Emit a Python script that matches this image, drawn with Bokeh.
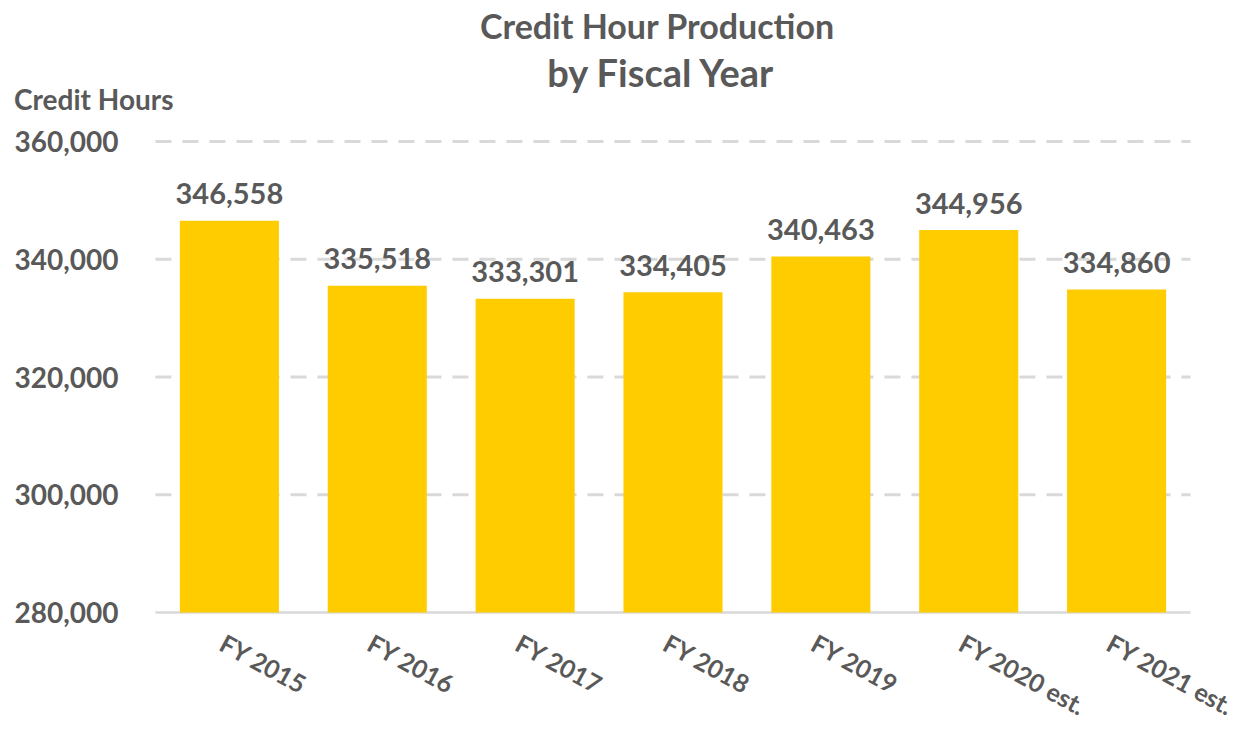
from bokeh.plotting import figure
from bokeh.models import ColumnDataSource, Label, Range1d
from bokeh.core.properties import value
from bokeh.embed import file_html
from bokeh.resources import INLINE

categories = ["FY 2015", "FY 2016", "FY 2017", "FY 2018", "FY 2019", "FY 2020 est.", "FY 2021 est."]
credit_hours = [346558, 335518, 333301, 334405, 340463, 344956, 334860]
y_ticks = [280000, 300000, 320000, 340000, 360000]

FONT = "Lato"
GREY = "#595959"
GRID = "#D9D9D9"

n = len(categories)
xs = list(range(n))
labels = [f"{v:,}" for v in credit_hours]
tick_labels = [f"{t:,}" for t in y_ticks]
src = ColumnDataSource(dict(x=xs, cat=categories, val=credit_hours, lab=labels,
                            base=[y_ticks[0]] * n))

# The frame fills the whole figure so that every text (rotated category labels,
# axis title, chart title) can be drawn through the data scales without clipping.
p = figure(x_range=Range1d(-1.548, 6.865), y_range=Range1d(260807, 383949),
           width=1244, height=725, output_backend="svg", toolbar_location=None,
           min_border_left=0, min_border_right=0, min_border_top=0, min_border_bottom=0)
p.outline_line_color = None
p.background_fill_color = "white"
p.xaxis.visible = False
p.yaxis.visible = False
p.xgrid.visible = False
p.ygrid.visible = False

# y tick labels from the tick values
p.text(x=[-0.75] * len(y_ticks), y=y_ticks, text=tick_labels, text_align="right",
       text_baseline="middle", text_color=GREY, text_font=value(FONT),
       text_font_style="bold", text_font_size="28px")

# dashed gridlines from the tick values (the lowest tick is the solid axis line)
grid_vals = y_ticks[1:]
p.segment(x0=[-0.5] * len(grid_vals), x1=[n - 0.5] * len(grid_vals), y0=grid_vals, y1=grid_vals,
          line_color=GRID, line_width=3, line_dash="16 11")
p.segment(x0=[-0.5], x1=[n - 0.5], y0=[y_ticks[0]], y1=[y_ticks[0]],
          line_color=GRID, line_width=2.5)

p.vbar(x="x", top="val", bottom="base", width=0.67, source=src,
       fill_color="#FFCC00", line_color=None)

p.text(x="x", y="val", text="lab", source=src, text_align="center",
       text_baseline="alphabetic", y_offset=-27, text_color=GREY,
       text_font=value(FONT), text_font_style="bold", text_font_size="29px")

# category labels, rotated, hanging below the axis line
p.text(x="x", y="base", text="cat", source=src, text_align="left",
       text_baseline="top", angle=-0.5, x_offset=0, y_offset=15, text_color=GREY,
       text_font=value(FONT), text_font_style="bold", text_font_size="25px")

p.add_layout(Label(x=2.895, y=379703, text="Credit Hour Production",
                   text_align="center", text_baseline="middle",
                   text_font=FONT, text_font_style="bold", text_font_size="34px", text_color=GREY))
p.add_layout(Label(x=2.922, y=371720, text="by Fiscal Year",
                   text_align="center", text_baseline="middle",
                   text_font=FONT, text_font_style="bold", text_font_size="38px", text_color=GREY))
p.add_layout(Label(x=-1.456, y=367300, text="Credit Hours",
                   text_align="left", text_baseline="middle",
                   text_font=FONT, text_font_style="bold", text_font_size="28px", text_color=GREY))

open("out.html", "w").write(file_html(p, INLINE))
